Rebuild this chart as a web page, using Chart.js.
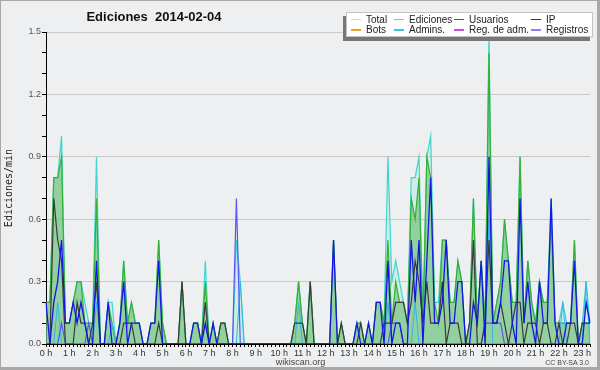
<!DOCTYPE html>
<html>
<head>
<meta charset="utf-8">
<script src="https://cdn.jsdelivr.net/npm/chart.js@4/dist/chart.umd.min.js"></script>
<style>
  body { margin: 0; }
  #wrap { position: relative; width: 600px; height: 370px; background: #eeeff0; overflow: hidden; }
  #frame { position: absolute; left: 0; top: 0; width: 600px; height: 370px; box-sizing: border-box;
           border: 1px solid #a8a8a8; border-right-width: 3px; border-bottom-width: 3px; pointer-events: none; }
  canvas { position: absolute; left: 0; top: 0; }
  #title { position: absolute; left: 0; width: 308px; top: 9px; line-height: 15px; text-align: center;
           font: bold 13px "Liberation Sans", sans-serif; color: #111; white-space: pre; }
  #site { position: absolute; left: 250px; width: 101px; top: 357px; line-height: 11px; text-align: center;
          font: 9px "Liberation Sans", sans-serif; color: #444; }
  #lic { position: absolute; right: 11px; top: 359px; line-height: 8px;
         font: 7px "Liberation Sans", sans-serif; color: #444; }
  #legend { position: absolute; left: 346px; top: 12px; width: 247px; height: 25px; box-sizing: border-box;
            background: #fff; border: 1px solid #c4c4c4; box-shadow: -3px 4px 0 #777; }
  .sw { position: absolute; width: 10px; height: 1.5px; }
  .lt { position: absolute; font: 10px "Liberation Sans", sans-serif; line-height: 10px; color: #222; white-space: nowrap; }
</style>
</head>
<body>
<div id="wrap">
  <canvas id="chart" width="600" height="370"></canvas>
  <div id="title">Ediciones  2014-02-04</div>
  <div id="legend"></div>
  <div id="site">wikiscan.org</div>
  <div id="lic">CC BY-SA 3.0</div>
  <div id="frame"></div>
</div>
<script>
// hour tick labels (one every 6 slots of 10 minutes)
const hourLabels = ["0 h", "1 h", "2 h", "3 h", "4 h", "5 h", "6 h", "7 h", "8 h", "9 h", "10 h", "11 h",
  "12 h", "13 h", "14 h", "15 h", "16 h", "17 h", "18 h", "19 h", "20 h", "21 h", "22 h", "23 h"];

// edits per minute, one value per 10 minutes (0:00 .. 23:20)
const total = [
  0.2, 0.2, 0.8, 0.8, 1.0, 0.1, 0.1, 0.2, 0.3, 0.3, 0.2, 0.1,
  0.1, 0.9, 0, 0, 0.2, 0.2, 0, 0.1, 0.4, 0.1, 0.2, 0.1,
  0.1, 0, 0, 0.1, 0.1, 0.5, 0.1, 0, 0, 0, 0, 0.3,
  0, 0, 0.1, 0.1, 0, 0.4, 0, 0.1, 0, 0.1, 0.1, 0,
  0, 0.5, 0.3, 0, 0, 0, 0, 0, 0, 0, 0, 0,
  0, 0, 0, 0, 0.1, 0.3, 0.1, 0, 0.3, 0, 0, 0,
  0, 0, 0.5, 0, 0.1, 0, 0, 0, 0.1, 0.1, 0, 0.1,
  0, 0.2, 0.2, 0.1, 0.9, 0.3, 0.4, 0.3, 0.2, 0.1, 0.8, 0.8,
  0.9, 0.1, 0.9, 1.0, 0.2, 0.2, 0.5, 0.5, 0.2, 0.2, 0.4, 0.3,
  0, 0.1, 0.7, 0.1, 0.4, 0.1, 1.5, 0.1, 0.2, 0.3, 0.6, 0.4,
  0.2, 0.2, 0.9, 0.1, 0.4, 0.2, 0.1, 0.3, 0.2, 0.2, 0.7, 0.1,
  0.1, 0.2, 0.1, 0.1, 0.5, 0, 0.1, 0.3, 0.1
];
const ediciones = [
  0.2, 0.2, 0.8, 0.8, 0.9, 0.1, 0.1, 0.2, 0.3, 0.3, 0.1, 0.1,
  0.1, 0.7, 0, 0, 0.2, 0.1, 0, 0.1, 0.4, 0.1, 0.2, 0.1,
  0.1, 0, 0, 0.1, 0.1, 0.5, 0.1, 0, 0, 0, 0, 0.3,
  0, 0, 0.1, 0.1, 0, 0.3, 0, 0.1, 0, 0.1, 0.1, 0,
  0, 0, 0, 0, 0, 0, 0, 0, 0, 0, 0, 0,
  0, 0, 0, 0, 0.1, 0.3, 0.1, 0, 0.3, 0, 0, 0,
  0, 0, 0.5, 0, 0.1, 0, 0, 0, 0.1, 0.1, 0, 0.1,
  0, 0.2, 0.2, 0.1, 0.5, 0.1, 0.3, 0.2, 0.2, 0.1, 0.7, 0.6,
  0.8, 0.1, 0.9, 0.8, 0.2, 0.1, 0.5, 0.5, 0.2, 0.2, 0.4, 0.3,
  0, 0.1, 0.7, 0.1, 0.4, 0.1, 1.4, 0.1, 0.2, 0.3, 0.6, 0.4,
  0.2, 0.2, 0.9, 0.1, 0.4, 0.2, 0.1, 0.3, 0.2, 0.2, 0.6, 0.1,
  0.1, 0.1, 0.1, 0.1, 0.5, 0, 0.1, 0.1, 0.1
];
const usuarios = [
  0.2, 0, 0.2, 0.3, 0.5, 0.1, 0.1, 0.2, 0.1, 0.2, 0.1, 0,
  0, 0.4, 0, 0, 0.2, 0, 0, 0.1, 0.3, 0, 0.1, 0.1,
  0.1, 0, 0, 0.1, 0.1, 0.4, 0, 0, 0, 0, 0, 0,
  0, 0, 0.1, 0.1, 0, 0.1, 0, 0.1, 0, 0, 0, 0,
  0, 0, 0, 0, 0, 0, 0, 0, 0, 0, 0, 0,
  0, 0, 0, 0, 0, 0, 0, 0, 0, 0, 0, 0,
  0, 0, 0.5, 0, 0, 0, 0, 0, 0.1, 0, 0, 0.1,
  0, 0.2, 0.2, 0, 0.4, 0, 0.1, 0.1, 0, 0, 0.5, 0.2,
  0.5, 0, 0.4, 0.8, 0.1, 0.1, 0.2, 0.5, 0.1, 0.1, 0.3, 0.3,
  0, 0, 0.2, 0.1, 0.4, 0, 0.9, 0.1, 0.1, 0.2, 0.4, 0.4,
  0.1, 0, 0.7, 0.1, 0.3, 0.1, 0, 0.3, 0.1, 0.1, 0.7, 0.1,
  0, 0, 0.1, 0.1, 0.4, 0, 0, 0.2, 0.1
];
const ip = [
  0, 0, 0.7, 0.5, 0.4, 0, 0, 0, 0.2, 0.1, 0.1, 0,
  0.1, 0.3, 0, 0, 0, 0, 0, 0, 0.1, 0.1, 0.1, 0,
  0, 0, 0, 0, 0, 0.1, 0, 0, 0, 0, 0, 0.3,
  0, 0, 0, 0, 0, 0.2, 0, 0, 0, 0.1, 0.1, 0,
  0, 0, 0, 0, 0, 0, 0, 0, 0, 0, 0, 0,
  0, 0, 0, 0, 0.1, 0.1, 0.1, 0, 0.3, 0, 0, 0,
  0, 0, 0, 0, 0.1, 0, 0, 0, 0, 0.1, 0, 0,
  0, 0, 0, 0.1, 0.1, 0.1, 0.2, 0.2, 0.2, 0.1, 0.2, 0.4,
  0.3, 0.1, 0.3, 0.1, 0.1, 0.1, 0.3, 0, 0.1, 0.1, 0.1, 0,
  0, 0.1, 0.5, 0, 0, 0.1, 0.5, 0.1, 0.1, 0.2, 0.1, 0,
  0.1, 0.2, 0.2, 0, 0.1, 0.1, 0.1, 0, 0.1, 0.1, 0, 0,
  0.1, 0, 0, 0.1, 0.1, 0, 0.1, 0.1, 0.1
];
const bots = [
  0, 0, 0, 0, 0, 0, 0, 0, 0, 0, 0, 0,
  0, 0, 0, 0, 0, 0, 0, 0, 0, 0, 0, 0,
  0, 0, 0, 0, 0, 0, 0, 0, 0, 0, 0, 0,
  0, 0, 0, 0, 0, 0, 0, 0, 0, 0, 0, 0,
  0, 0, 0, 0, 0, 0, 0, 0, 0, 0, 0, 0,
  0, 0, 0, 0, 0, 0, 0, 0, 0, 0, 0, 0,
  0, 0, 0, 0, 0, 0, 0, 0, 0, 0, 0, 0,
  0, 0, 0, 0, 0, 0, 0, 0, 0, 0, 0, 0,
  0, 0, 0, 0, 0, 0, 0, 0, 0, 0, 0, 0,
  0, 0, 0, 0, 0, 0, 0, 0, 0, 0, 0, 0,
  0, 0, 0, 0, 0, 0, 0, 0, 0, 0, 0, 0,
  0, 0, 0, 0, 0, 0, 0, 0, 0
];
const admins = [
  0, 0, 0, 0.2, 0, 0, 0, 0, 0, 0, 0, 0,
  0, 0.2, 0, 0, 0, 0.1, 0, 0, 0, 0, 0, 0,
  0, 0, 0, 0, 0, 0, 0, 0, 0, 0, 0, 0,
  0, 0, 0, 0, 0, 0.1, 0, 0, 0, 0, 0, 0,
  0, 0, 0.3, 0, 0, 0, 0, 0, 0, 0, 0, 0,
  0, 0, 0, 0, 0, 0.2, 0, 0, 0, 0, 0, 0,
  0, 0, 0, 0, 0, 0, 0, 0, 0, 0, 0, 0,
  0, 0, 0, 0, 0.2, 0, 0, 0, 0, 0, 0, 0.2,
  0, 0, 0, 0, 0, 0, 0, 0, 0, 0, 0, 0,
  0, 0, 0, 0, 0, 0, 0.6, 0, 0, 0, 0, 0,
  0, 0, 0, 0, 0, 0, 0, 0, 0, 0, 0, 0,
  0, 0.2, 0, 0, 0, 0, 0, 0.3, 0
];
const regAdmin = [
  0, 0, 0, 0, 0, 0, 0, 0, 0, 0, 0, 0,
  0, 0, 0, 0, 0, 0, 0, 0, 0, 0, 0, 0,
  0, 0, 0, 0, 0, 0, 0, 0, 0, 0, 0, 0,
  0, 0, 0, 0, 0, 0, 0, 0, 0, 0, 0, 0,
  0, 0, 0, 0, 0, 0, 0, 0, 0, 0, 0, 0,
  0, 0, 0, 0, 0, 0, 0, 0, 0, 0, 0, 0,
  0, 0, 0, 0, 0, 0, 0, 0, 0, 0, 0, 0,
  0, 0, 0, 0, 0, 0, 0, 0, 0, 0, 0, 0,
  0, 0, 0, 0, 0, 0, 0, 0, 0, 0, 0, 0,
  0, 0, 0, 0, 0, 0, 0, 0, 0, 0, 0, 0,
  0, 0, 0, 0, 0, 0, 0, 0, 0, 0, 0, 0,
  0, 0, 0, 0, 0, 0, 0, 0, 0
];
const registros = [
  0, 0, 0, 0, 0.1, 0, 0, 0, 0, 0, 0, 0.1,
  0, 0, 0, 0, 0, 0, 0, 0, 0, 0, 0, 0,
  0, 0, 0, 0, 0, 0, 0, 0, 0, 0, 0, 0,
  0, 0, 0, 0, 0, 0, 0, 0, 0, 0, 0, 0,
  0, 0.7, 0, 0, 0, 0, 0, 0, 0, 0, 0, 0,
  0, 0, 0, 0, 0, 0, 0, 0, 0, 0, 0, 0,
  0, 0, 0, 0, 0, 0, 0, 0, 0, 0, 0, 0,
  0, 0, 0, 0, 0, 0.1, 0.1, 0.1, 0, 0, 0, 0,
  0, 0, 0, 0, 0, 0, 0, 0, 0, 0, 0, 0,
  0, 0, 0, 0, 0, 0.1, 0.1, 0.1, 0.1, 0.1, 0, 0,
  0, 0, 0, 0, 0, 0, 0, 0, 0, 0, 0, 0,
  0, 0, 0, 0, 0, 0, 0, 0, 0
];

const seriesNames = ["Total", "Ediciones", "Usuarios", "IP", "Bots", "Admins.", "Reg. de adm.", "Registros"];
const legendColors = ["#a8e6de", "#7fcf7f", "#4646e0", "#333333", "#f0a030", "#3cc6dc", "#d04ce0", "#8484f2"];

// 10-minute slot categories
const timeLabels = [];
for (let i = 0; i < total.length; i++) {
  timeLabels.push(Math.floor(i / 6) + ":" + String((i % 6) * 10).padStart(2, "0"));
}

function line(label, data, color, width, order, fill, bg) {
  return {
    label: label,
    data: data,
    borderColor: color,
    borderWidth: width,
    backgroundColor: bg || color,
    fill: fill ? "origin" : false,
    pointRadius: 0,
    tension: 0,
    order: order,
  };
}

let config = {
  type: "line",
  data: {
    labels: timeLabels,
    datasets: [
      line(seriesNames[0], total, "#3fd6cc", 1.2, 8, true, "rgba(180,232,226,0.5)"),
      line(seriesNames[1], ediciones, "#34b034", 1.2, 7, true, "rgba(70,175,70,0.45)"),
      line(seriesNames[2], usuarios, "#1515e6", 1.3, 1),
      line(seriesNames[3], ip, "#3a3a3a", 1.2, 2),
      line(seriesNames[4], bots, "#f0a030", 1, 6),
      line(seriesNames[5], admins, "#30b6e6", 1, 4),
      line(seriesNames[6], regAdmin, "#d04ce0", 1, 5),
      line(seriesNames[7], registros, "#5656f4", 1.2, 3),
    ],
  },
  options: {
    responsive: false,
    animation: false,
    layout: { padding: { top: 32, right: 10, left: 0, bottom: 0 } },
    plugins: {
      legend: { display: false },
      title: { display: false },
      tooltip: { enabled: false },
    },
    scales: {
      x: {
        z: 1,
        afterFit: (scale) => { scale.height = 26; },
        border: { color: "#000", width: 1 },
        grid: { display: true, drawOnChartArea: false, drawTicks: true, tickLength: 3, tickColor: "#000" },
        ticks: {
          autoSkip: false,
          maxRotation: 0,
          padding: 1,
          color: "#333",
          font: { family: "Liberation Sans", size: 9 },
          callback: (val, idx) => (idx % 6 === 0 ? hourLabels[idx / 6] : ""),
        },
      },
      y: {
        min: 0,
        max: 1.5,
        afterFit: (scale) => { scale.width = 46; },
        border: { color: "#000", width: 1 },
        grid: {
          color: (ctx) => (ctx.tick && Math.round(ctx.tick.value * 10) % 3 === 0 ? "#c9c9c9" : "rgba(0,0,0,0)"),
          tickColor: "#000",
          tickLength: 4,
        },
        ticks: {
          stepSize: 0.1,
          autoSkip: false,
          padding: 1,
          color: "#555",
          font: { family: "Liberation Sans", size: 9 },
          callback: (v) => (Math.round(v * 10) % 3 === 0 ? v.toFixed(1) : ""),
        },
        title: {
          display: true,
          text: "Ediciones/min",
          color: "#222",
          font: { family: "DejaVu Sans Mono", size: 10 },
          padding: { top: 3, bottom: 0 },
        },
      },
    },
  },
};

// draw chart
var chart = new Chart(document.getElementById("chart"), config);

// legend box, two rows of four
const legendBox = document.getElementById("legend");
const colX = [4, 47, 107, 184];
const rowY = [6.5, 17];
seriesNames.forEach((name, i) => {
  const cx = colX[i % 4];
  const cy = rowY[Math.floor(i / 4)];
  const sw = document.createElement("div");
  sw.className = "sw";
  sw.style.left = cx + "px";
  sw.style.top = (cy - 1) + "px";
  sw.style.background = legendColors[i];
  const tx = document.createElement("div");
  tx.className = "lt";
  tx.style.left = (cx + 15) + "px";
  tx.style.top = (cy - 5) + "px";
  tx.textContent = name;
  legendBox.appendChild(sw);
  legendBox.appendChild(tx);
});
</script>
</body>
</html>
